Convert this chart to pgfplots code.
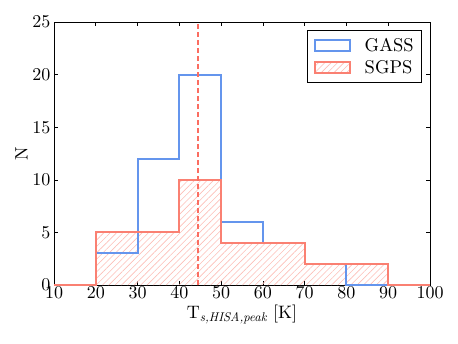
\documentclass[border=0pt]{standalone}
\usepackage{fontspec}
\setmainfont{lmroman10}[Extension=.otf, UprightFont=*-regular, ItalicFont=*-italic, BoldFont=*-bold]
\usepackage{pgfplots}
\pgfplotsset{compat=1.18}
\usetikzlibrary{patterns.meta,calc}
\definecolor{gassblue}{RGB}{100,149,237}
\definecolor{sgpsred}{RGB}{250,128,114}
\definecolor{hatchred}{RGB}{252,190,183}
\tikzset{hatch/.style={pattern={Lines[angle=45, distance=4.5pt, line width=0.6pt]}, pattern color=hatchred}}
\begin{document}
\begin{tikzpicture}
\begin{axis}[
    scale only axis,
    width=376pt, height=263pt,
    xmin=10, xmax=100, ymin=0, ymax=25,
    xtick={10,20,...,100}, ytick={0,5,...,25},
    /pgf/number format/assume math mode=true,
    tick align=inside,
    xtick pos=both, ytick pos=both,
    major tick length=4pt,
    tick style={black, line width=0.6pt},
    axis line style={line width=0.8pt},
    tick label style={font=\fontsize{18}{20}\selectfont},
    xticklabel style={yshift=2pt},
    label style={font=\fontsize{18}{21}\selectfont},
    xlabel={T\textsubscript{\itshape s,HISA,peak} [K]},
    ylabel={N},
    xlabel style={yshift=1pt},
    ylabel style={yshift=-2pt},
    legend style={at={(0.979,0.97)}, anchor=north east, draw=black, line width=0.8pt,
        font=\fontsize{18.5}{22}\selectfont, row sep=3pt, column sep=12pt,
        inner xsep=6pt, inner ysep=6pt},
    legend cell align=left,
]
\coordinate (sw) at (rel axis cs:0,0);
\coordinate (ne) at (rel axis cs:1,1);
% SGPS hatched area
\addplot[const plot, draw=none, hatch, forget plot]
  coordinates {(10,0) (20,5) (30,5) (40,10) (50,4) (60,4) (70,2) (80,2) (90,0) (100,0)} \closedcycle;
% GASS outline
\addplot[const plot, gassblue, line width=2pt, mark=none,
  legend image code/.code={\draw[gassblue, line width=2pt] (0pt,-5.5pt) rectangle (35pt,5.5pt);}]
  coordinates {(10,0) (20,3) (30,12) (40,20) (50,6) (60,4) (70,2) (80,0) (90,0) (100,0)};
\addlegendentry{GASS}
% SGPS outline
\addplot[const plot, sgpsred, line width=2pt, mark=none,
  legend image code/.code={\draw[sgpsred, line width=2pt, hatch] (0pt,-5.5pt) rectangle (35pt,5.5pt);}]
  coordinates {(10,0) (20,5) (30,5) (40,10) (50,4) (60,4) (70,2) (80,2) (90,0) (100,0)};
\addlegendentry{SGPS}
% median line
\addplot[sgpsred!85!red, line width=2pt, dash pattern=on 5pt off 3pt, forget plot]
  coordinates {(44.5,0) (44.5,25)};
\end{axis}
\pgfresetboundingbox
\path[use as bounding box] ($(sw)+(-54pt,-58pt)$) rectangle ($(ne)+(28pt,22pt)$);
\end{tikzpicture}
\end{document}
